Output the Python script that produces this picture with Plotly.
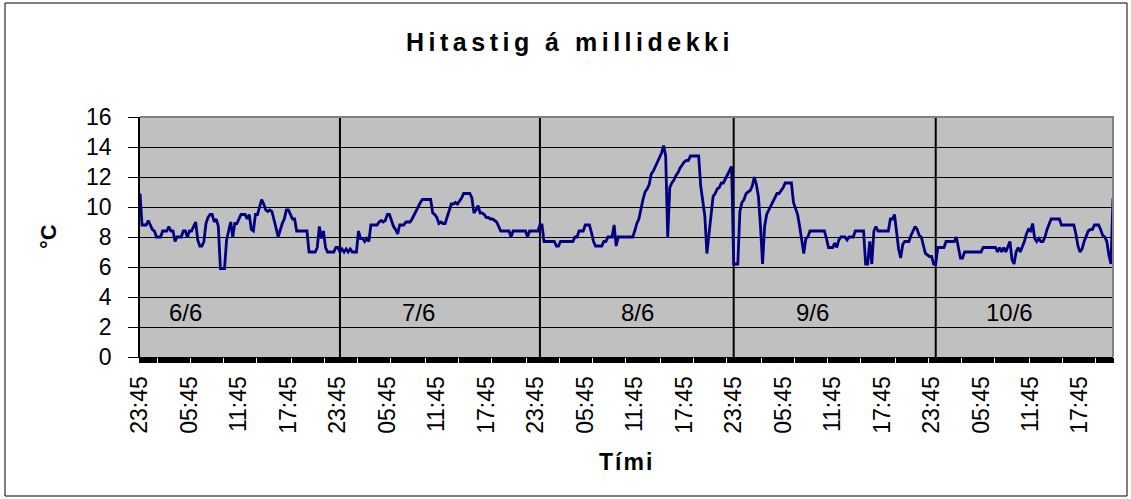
import plotly.graph_objects as go

# ---------------- data (15-minute readings, each day starts at 23:45) ----------------
day_6_6 = [10.9, 8.8, 8.8, 8.8, 9.1, 8.8, 8.5, 8.4, 8.0, 8.0, 8.0, 8.4, 8.4, 8.4, 8.7, 8.4,
           8.4, 7.7, 8.0, 8.0, 8.0, 8.4, 8.4, 8.0, 8.4, 8.4, 8.7, 9.0, 7.8, 7.4, 7.4, 7.7,
           8.9, 9.3, 9.5, 9.5, 9.0, 9.2, 8.7, 5.9, 5.9, 5.9, 7.8, 8.5, 9.0, 8.0, 8.9, 8.9,
           9.2, 9.5, 9.5, 9.5, 9.2, 9.5, 8.5, 8.4, 9.5, 9.5, 10.0, 10.5, 10.2, 9.8, 9.7, 9.8,
           9.7, 9.2, 8.6, 8.0, 8.5, 8.9, 9.2, 9.8, 9.8, 9.5, 9.2, 9.2, 8.4, 8.4, 8.4, 8.4,
           8.4, 8.4, 7.0, 7.0, 7.0, 7.0, 7.3, 8.7, 7.9, 8.4, 7.3, 7.0, 7.0, 7.0, 7.0, 7.3,
           7.3]
day_7_6 = [7.0, 7.2, 7.0, 7.2, 7.0, 7.2, 7.0, 7.0, 7.0, 8.4, 7.9, 7.9, 7.7, 7.9, 7.7, 8.8,
           8.8, 8.8, 8.8, 9.0, 9.1, 9.0, 9.1, 9.5, 9.5, 9.1, 8.7, 8.5, 8.2, 8.8, 8.8, 8.8,
           9.0, 9.0, 9.0, 9.2, 9.5, 9.7, 10.1, 10.3, 10.5, 10.5, 10.5, 10.5, 10.5, 9.6, 9.5, 9.3,
           8.9, 9.0, 8.9, 8.9, 9.3, 9.8, 10.2, 10.2, 10.3, 10.2, 10.4, 10.6, 10.9, 10.9, 10.9, 10.9,
           10.6, 9.6, 9.8, 10.1, 9.6, 9.6, 9.5, 9.3, 9.3, 9.2, 9.2, 9.1, 9.0, 8.7, 8.4, 8.4,
           8.4, 8.4, 8.4, 8.0, 8.4, 8.4, 8.4, 8.4, 8.4, 8.4, 8.4, 8.0, 8.4, 8.4, 8.4, 8.4,
           8.4]
day_8_6 = [8.8, 8.8, 7.7, 7.7, 7.7, 7.7, 7.7, 7.7, 7.4, 7.4, 7.7, 7.7, 7.7, 7.7, 7.7, 7.7,
           7.7, 8.0, 8.0, 8.4, 8.4, 8.4, 8.8, 8.8, 8.8, 8.3, 7.7, 7.4, 7.4, 7.4, 7.4, 7.7,
           7.7, 8.0, 8.0, 8.0, 8.8, 7.4, 8.0, 8.0, 8.0, 8.0, 8.0, 8.0, 8.0, 8.0, 8.4, 8.9,
           9.2, 9.9, 10.5, 11.0, 11.2, 11.5, 12.2, 12.4, 12.7, 13.0, 13.3, 13.6, 14.1, 13.4, 8.0, 11.3,
           11.6, 11.8, 12.1, 12.3, 12.6, 12.8, 13.0, 13.1, 13.1, 13.4, 13.4, 13.4, 13.4, 13.4, 11.4, 10.4,
           9.4, 6.9, 8.3, 9.7, 10.7, 10.9, 11.2, 11.3, 11.6, 11.6, 11.9, 12.2, 12.4, 12.7]
day_9_6 = [6.2, 6.2, 6.2, 9.7, 10.3, 10.5, 10.9, 11.0, 11.1, 11.4, 12.0, 11.5, 10.7, 8.7, 6.2, 8.7,
           9.5, 9.8, 10.1, 10.3, 10.6, 10.9, 10.9, 11.1, 11.3, 11.6, 11.6, 11.6, 11.6, 10.3, 9.9, 9.5,
           8.7, 7.6, 6.9, 7.9, 8.0, 8.4, 8.4, 8.4, 8.4, 8.4, 8.4, 8.4, 8.4, 7.9, 7.3, 7.3,
           7.3, 7.6, 7.3, 7.8, 8.0, 8.0, 8.0, 7.8, 8.0, 8.0, 8.0, 8.4, 8.4, 8.4, 8.4, 8.4,
           6.2, 6.2, 7.7, 6.2, 8.4, 8.7, 8.4, 8.4, 8.4, 8.4, 8.4, 8.4, 9.2, 9.2, 9.5, 8.2,
           7.2, 6.6, 7.5, 7.7, 7.7, 7.7, 8.1, 8.4, 8.7, 8.5, 8.1, 8.0, 7.5, 6.9, 6.8, 6.7,
           6.7, 6.2]
day_10_6 = [6.2, 7.3, 7.3, 7.3, 7.3, 7.7, 7.7, 7.7, 7.7, 7.7, 8.0, 7.3, 6.6, 6.6, 7.0, 7.0,
            7.0, 7.0, 7.0, 7.0, 7.0, 7.0, 7.0, 7.3, 7.3, 7.3, 7.3, 7.3, 7.3, 7.3, 7.0, 7.3,
            7.0, 7.3, 7.0, 7.3, 7.7, 6.5, 6.2, 7.0, 7.3, 7.0, 7.3, 7.7, 8.2, 8.5, 8.4, 8.9,
            7.9, 7.7, 7.9, 7.7, 7.7, 8.0, 8.5, 8.9, 9.2, 9.2, 9.2, 9.2, 9.2, 8.8, 8.8, 8.8,
            8.8, 8.8, 8.8, 8.8, 8.2, 7.4, 7.0, 7.2, 7.7, 8.1, 8.4, 8.5, 8.5, 8.8, 8.8, 8.8,
            8.5, 8.1, 8.0, 7.7, 6.8, 6.2, 10.6]

day_labels = ["6/6", "7/6", "8/6", "9/6", "10/6"]
tick_labels = ["23:45", "05:45", "11:45", "17:45"]

title_text = "Hitastig á millidekki"
y_title = "°C"
x_title = "Tími"

# ---------------- build ----------------
days = [day_6_6, day_7_6, day_8_6, day_9_6, day_10_6]
temps = [v for d in days for v in d]
n = len(temps)
xs = list(range(n))
label_step = 24  # one label every six hours (24 readings)

W, H = 1131, 499
L, R, T, B = 140, 18, 117, 142
PW, PH = W - L - R, H - T - B


def px(x, y):
    return (x - L) / PW, (H - B - y) / PH


FONT = "Liberation Sans, Arial, sans-serif"

fig = go.Figure()
fig.add_trace(go.Scatter(x=xs, y=temps, mode="lines",
                         line=dict(color="#000080", width=2.8),
                         hoverinfo="y", showlegend=False))

tickvals = list(range(0, n, label_step))
ticktext = [tick_labels[(i // label_step) % len(tick_labels)] for i in tickvals]

fig.update_layout(
    width=W, height=H,
    margin=dict(l=L, r=R, t=T, b=B, pad=0),
    paper_bgcolor="white",
    plot_bgcolor="#C0C0C0",
    font=dict(family=FONT, color="black", size=23),
    xaxis=dict(range=[0, n - 1], tickmode="array", tickvals=tickvals, ticktext=ticktext,
               tickangle=-90, ticks="outside", ticklen=5, tickcolor="black", tickwidth=2,
               ticklabelstandoff=4,
               showgrid=False, zeroline=False, showline=True, linecolor="black", linewidth=1,
               tickfont=dict(size=23, family=FONT),
               minor=dict(tickmode="array", tickvals=xs, ticks="outside", ticklen=5,
                          tickcolor="black", tickwidth=2, showgrid=False)),
    yaxis=dict(range=[0, 16], dtick=2, tick0=0, ticks="outside", ticklen=10,
               tickcolor="black", showgrid=True, gridcolor="black", gridwidth=1,
               ticklabelstandoff=12,
               zeroline=False, showline=True, linecolor="black", linewidth=1.5,
               tickfont=dict(size=23, family=FONT)),
)

shapes = []
# day separator lines (first reading of each new day)
start = 0
for d in days[:-1]:
    start += len(d)
    shapes.append(dict(type="line", xref="x", yref="paper", x0=start, x1=start, y0=0, y1=1,
                       line=dict(color="black", width=2), layer="below"))
# plot-area border (top and right, grey)
shapes.append(dict(type="path", xref="paper", yref="paper", path="M 0,1 L 1,1 L 1,0",
                   line=dict(color="#808080", width=2), layer="above"))
# outer chart border
bx0, by0 = px(5, 3)
bx1, by1 = px(1127, 496)
shapes.append(dict(type="rect", xref="paper", yref="paper", x0=bx0, y0=by1, x1=bx1, y1=by0,
                   line=dict(color="black", width=1), fillcolor="rgba(0,0,0,0)", layer="above"))
fig.update_layout(shapes=shapes)

ann = []
day_label_x = [22, 135, 241.5, 326, 422]
for lab, xv in zip(day_labels, day_label_x):
    ann.append(dict(x=xv, y=3, xref="x", yref="y", text=lab, showarrow=False,
                    xanchor="center", yanchor="middle",
                    font=dict(size=24, family=FONT, color="black")))
tx, ty = px(570, 42)
ann.append(dict(x=tx, y=ty, xref="paper", yref="paper",
                text='<span style="letter-spacing:4.5px">' + title_text + '</span>',
                showarrow=False, xanchor="center", yanchor="middle",
                font=dict(size=25, family=FONT, color="black", weight="bold")))
yx, yy = px(48, 237)
ann.append(dict(x=yx, y=yy, xref="paper", yref="paper", text=y_title, showarrow=False,
                xanchor="center", yanchor="middle", textangle=-90,
                font=dict(size=22, family=FONT, color="black", weight="bold")))
xx, xy = px(626, 462)
ann.append(dict(x=xx, y=xy, xref="paper", yref="paper",
                text='<span style="letter-spacing:2px">' + x_title + '</span>',
                showarrow=False, xanchor="center", yanchor="middle",
                font=dict(size=23, family=FONT, color="black", weight="bold")))
fig.update_layout(annotations=ann)

fig.write_html("out.html", config={"displayModeBar": False},
               post_script="document.body.style.margin='0px';")
